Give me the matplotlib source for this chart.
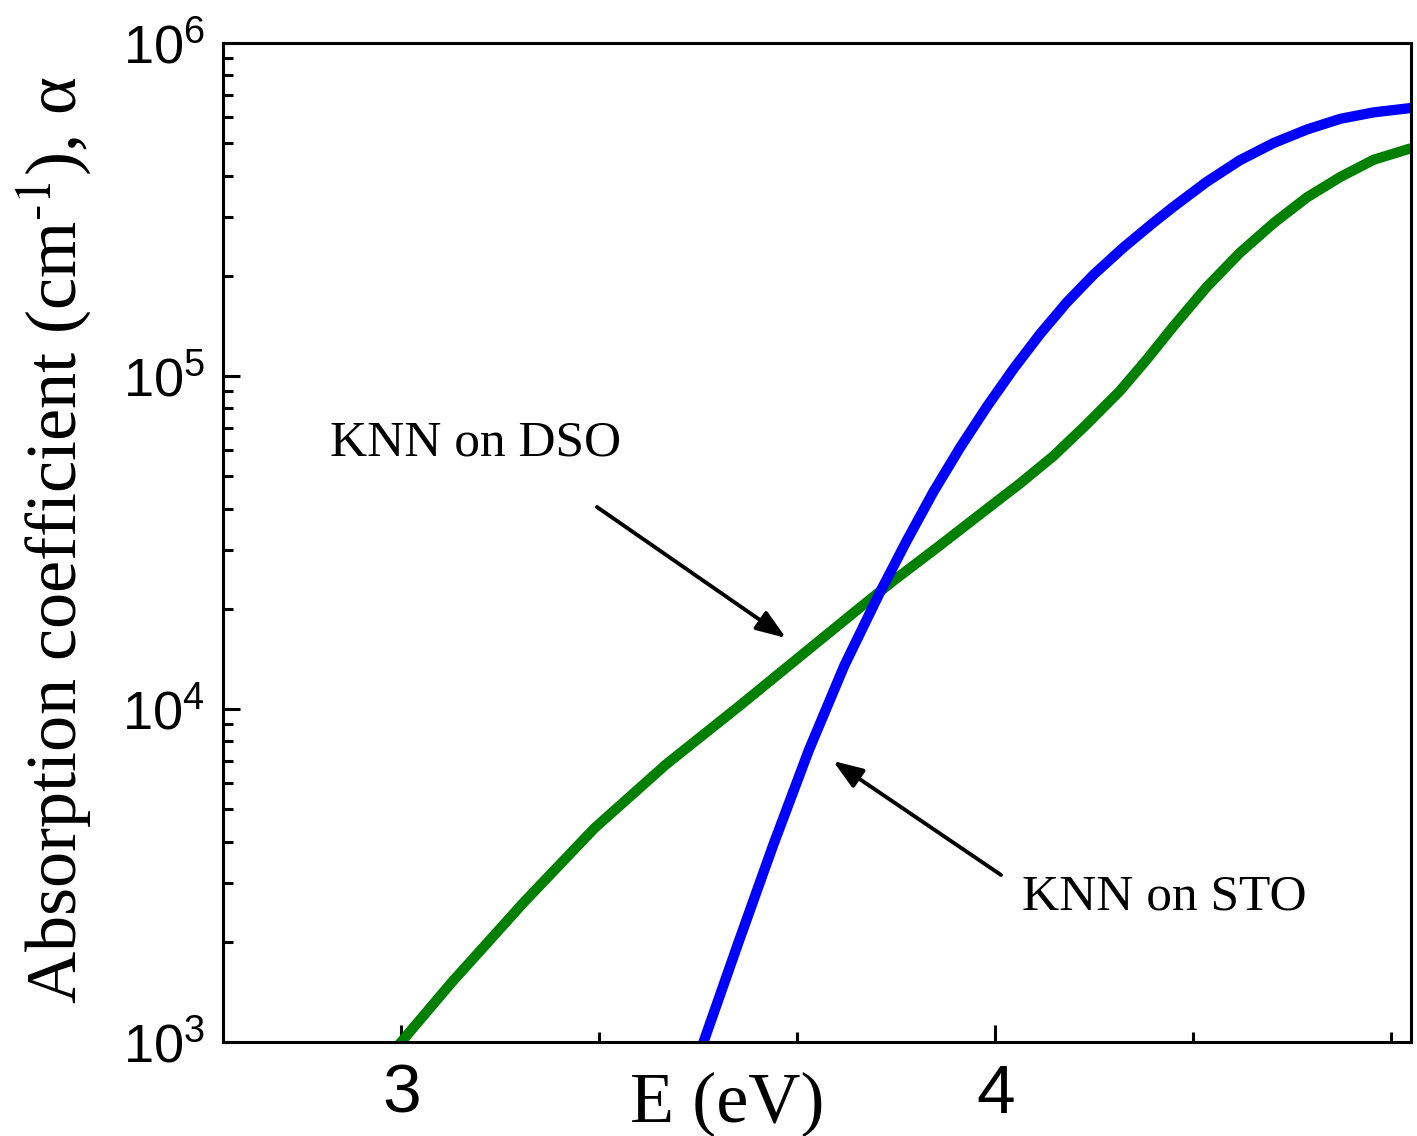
import matplotlib
matplotlib.use("Agg")
import matplotlib.pyplot as plt
from matplotlib.ticker import FixedLocator, LogLocator, NullFormatter

plt.rcParams['font.family'] = ['Liberation Sans', 'DejaVu Sans']
plt.rcParams['mathtext.fontset'] = 'custom'
plt.rcParams['mathtext.rm'] = 'Liberation Sans'
plt.rcParams['mathtext.it'] = 'Liberation Sans:italic'

# ---- data ----
E_dso = [2.98, 3.0, 3.085, 3.205, 3.325, 3.446, 3.566, 3.686, 3.773, 3.829,
         3.907, 3.975, 4.042, 4.098, 4.154, 4.210, 4.255, 4.300, 4.356,
         4.412, 4.469, 4.525, 4.581, 4.637, 4.700]
alpha_dso = [9.1e2, 1.0e3, 1.51e3, 2.61e3, 4.38e3, 6.82e3, 1.01e4, 1.51e4,
             2.02e4, 2.43e4, 3.10e4, 3.85e4, 4.76e4, 5.75e4, 7.16e4, 9.02e4,
             1.12e5, 1.41e5, 1.85e5, 2.345e5, 2.88e5, 3.44e5, 3.96e5, 4.46e5,
             4.83e5]

E_sto = [3.49, 3.509, 3.566, 3.626, 3.686, 3.746, 3.806, 3.851, 3.896, 3.941,
         3.986, 4.031, 4.076, 4.121, 4.166, 4.216, 4.266, 4.300, 4.356,
         4.412, 4.469, 4.525, 4.581, 4.637, 4.700]
alpha_sto = [8.0e2, 1.0e3, 1.95e3, 3.89e3, 7.50e3, 1.35e4, 2.24e4, 3.20e4,
             4.49e4, 6.10e4, 8.09e4, 1.052e5, 1.34e5, 1.667e5, 2.018e5, 2.432e5,
             2.884e5, 3.221e5, 3.828e5, 4.446e5, 5.01e5, 5.50e5, 5.92e5, 6.19e5,
             6.38e5]

x_major = [3, 4]
x_minor = [2.6667, 3.3333, 3.6667, 4.3333, 4.6667]
x_ticklabels = ['3', '4']

label_dso = 'KNN on DSO'
label_sto = 'KNN on STO'

W, H = 1417, 1136
fig = plt.figure(figsize=(W / 100, H / 100), dpi=100)
ax = fig.add_axes([223 / W, 1 - 1042 / H, (1411 - 223) / W, (1042 - 43) / H])

ax.plot(E_dso, alpha_dso, color='#008000', lw=7.4, solid_capstyle='butt',
        solid_joinstyle='round')
ax.plot(E_sto, alpha_sto, color='#0000FF', lw=7.4, solid_capstyle='butt',
        solid_joinstyle='round')

ax.set_yscale('log')
ax.set_xlim(2.7, 4.7)
ax.set_ylim(1e3, 1e6)

ax.xaxis.set_major_locator(FixedLocator(x_major))
ax.xaxis.set_minor_locator(FixedLocator(x_minor))
ax.set_xticklabels(x_ticklabels)
ax.yaxis.set_major_locator(LogLocator(base=10, numticks=10))
ax.yaxis.set_minor_locator(LogLocator(base=10, subs=range(2, 10), numticks=20))
ax.yaxis.set_minor_formatter(NullFormatter())

for s in ax.spines.values():
    s.set_linewidth(2.2)
ax.tick_params(which='both', direction='in', top=False, right=False, width=2.2)
ax.tick_params(which='major', length=12)
ax.tick_params(which='minor', length=7)
ax.tick_params(axis='x', which='major', labelsize=50, pad=15)
ax.tick_params(axis='y', which='major', labelsize=39, pad=13)

serif = ['Liberation Serif', 'DejaVu Serif']
ax.text((330 - 223) / 1188, (1042 - 456) / 999, label_dso, transform=ax.transAxes,
        fontsize=37, family=serif, ha='left', va='baseline')
ax.text((1022 - 223) / 1188, (1042 - 910) / 999, label_sto, transform=ax.transAxes,
        fontsize=37, family=serif, ha='left', va='baseline')

aprops = dict(arrowstyle='-|>,head_length=0.9,head_width=0.33', color='black',
              lw=2.8, shrinkA=0, shrinkB=0, mutation_scale=20)
ax.annotate('', xy=(0.4739, 0.4044), xytext=(0.3148, 0.5355),
            xycoords='axes fraction', textcoords='axes fraction', arrowprops=aprops)
ax.annotate('', xy=(0.5135, 0.2813), xytext=(0.6549, 0.1672),
            xycoords='axes fraction', textcoords='axes fraction', arrowprops=aprops)

fig.text(727 / W, 1 - 1122 / H, 'E (eV)', fontsize=52, family=serif,
         ha='center', va='baseline')
fig.text(77 / W, 1 - 540 / H, r'Absorption coefficient (cm$^{\text{-1}}$), α',
         fontsize=52, family=serif, rotation=90, rotation_mode='anchor',
         ha='center', va='baseline', math_fontfamily='stix')

fig.savefig('out.png', dpi=100)
